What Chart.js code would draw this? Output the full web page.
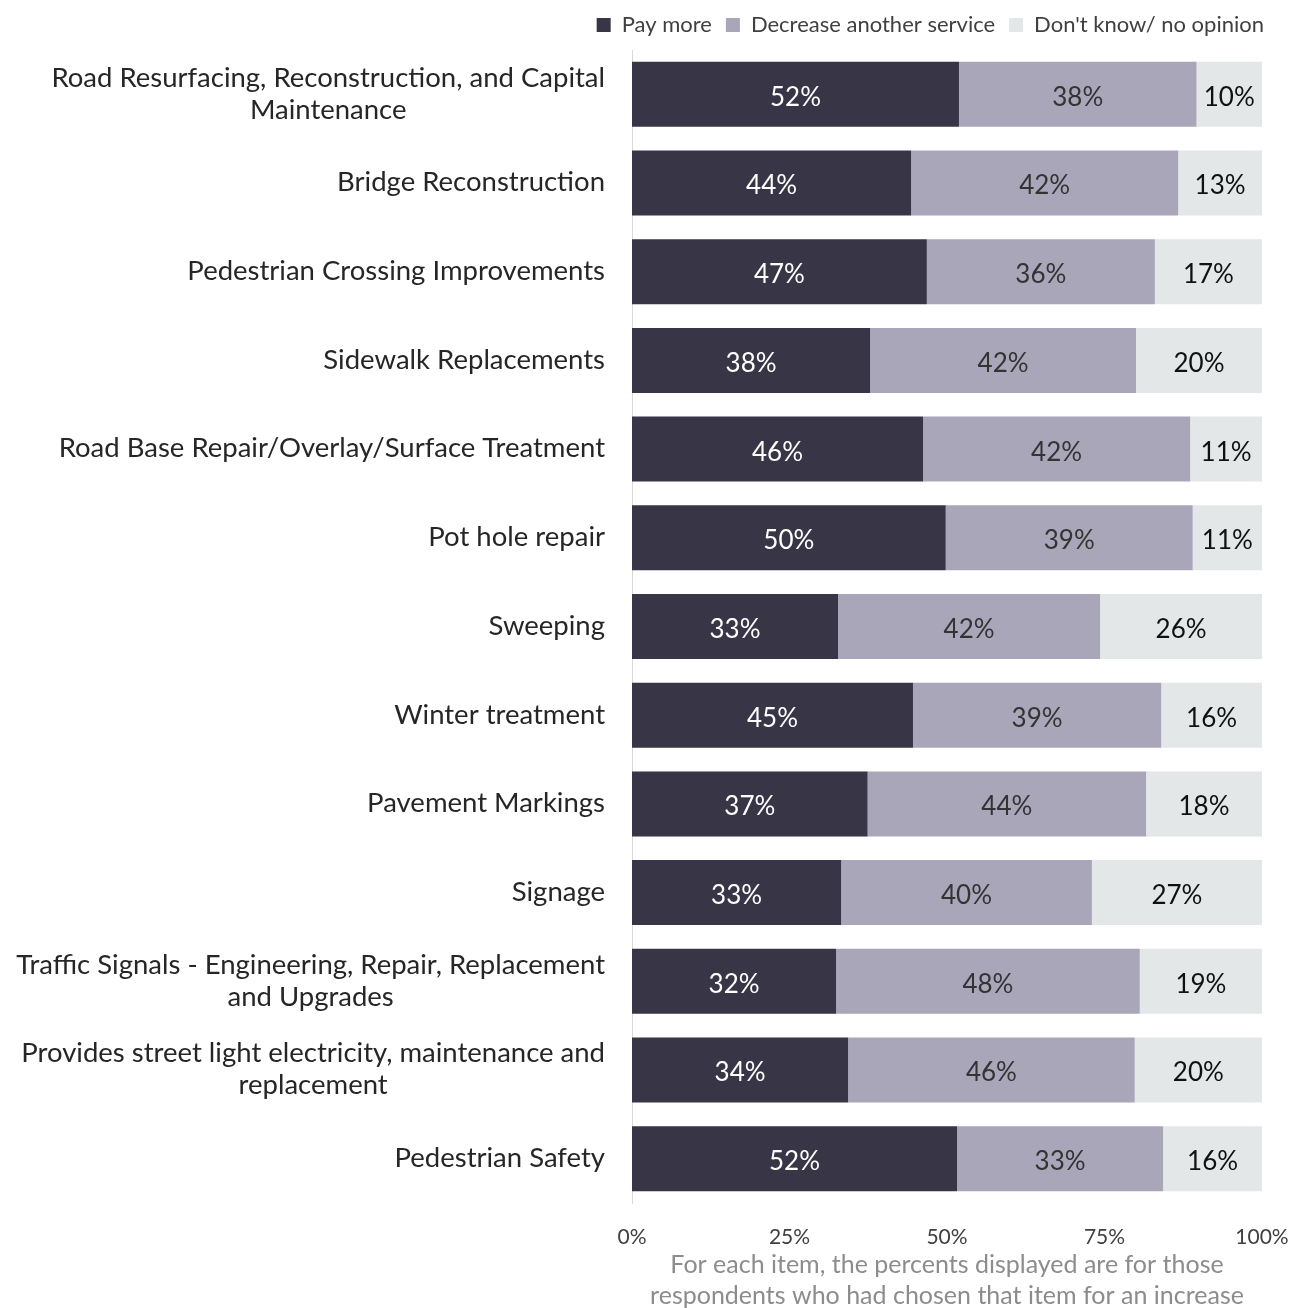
<!DOCTYPE html>
<html>
<head>
<meta charset="utf-8">
<script src="https://cdn.jsdelivr.net/npm/chart.js@4.4.1/dist/chart.umd.min.js"></script>
<style>
    html, body { margin: 0; padding: 0; background: #fff; }
    #contenedor { width: 1299px; height: 1308px; }
</style>
</head>
<body>
<div id="contenedor"><canvas id="grafico"></canvas></div>
<script>
// datos
const categorias = [
    ['Road Resurfacing, Reconstruction, and Capital', 'Maintenance'],
    'Bridge Reconstruction',
    'Pedestrian Crossing Improvements',
    'Sidewalk Replacements',
    'Road Base Repair/Overlay/Surface Treatment',
    'Pot hole repair',
    'Sweeping',
    'Winter treatment',
    'Pavement Markings',
    'Signage',
    ['Traffic Signals - Engineering, Repair, Replacement', 'and Upgrades'],
    ['Provides street light electricity, maintenance and', 'replacement'],
    'Pedestrian Safety'
];
const pagarMas = [51.9, 44.3, 46.8, 37.8, 46.2, 49.8, 32.7, 44.6, 37.4, 33.2, 32.4, 34.3, 51.6];
const disminuirOtro = [37.7, 42.4, 36.2, 42.2, 42.4, 39.2, 41.6, 39.4, 44.2, 39.8, 48.2, 45.5, 32.7];
const noSabe = [10.4, 13.3, 17.0, 20.0, 11.4, 11.0, 25.7, 16.0, 18.4, 27.0, 19.4, 20.2, 15.7];
const seriesNombres = ['Pay more', 'Decrease another service', "Don't know/ no opinion"];
const tituloX = ['For each item, the percents displayed are for those', 'respondents who had chosen that item for an increase'];

const colores = ['#383547', '#aaa6ba', '#e4e7e8'];
const coloresTexto = ['#ffffff', '#333333', '#111111'];

// etiquetas del eje y, centradas entre lineas y alineadas a la derecha
const etiquetasEje = {
    id: 'etiquetasEje',
    afterDraw(chart) {
        const ctx = chart.ctx;
        const escala = chart.scales.y;
        ctx.save();
        ctx.font = '27.5px Lato';
        ctx.fillStyle = '#262626';
        ctx.textAlign = 'center';
        ctx.textBaseline = 'middle';
        categorias.forEach((cat, i) => {
            const lineas = Array.isArray(cat) ? cat : [cat];
            const ancho = Math.max(...lineas.map(l => ctx.measureText(l).width));
            const xCentro = escala.right - 27 - ancho / 2;
            const yCentro = escala.getPixelForTick(i) - 0.5;
            lineas.forEach((l, j) => {
                ctx.fillText(l, xCentro, yCentro + (j - (lineas.length - 1) / 2) * 32);
            });
        });
        ctx.restore();
    }
};

const etiquetasBarras = {
    id: 'etiquetasBarras',
    afterDatasetsDraw(chart) {
        const ctx = chart.ctx;
        ctx.save();
        ctx.font = '26px Lato';
        ctx.textAlign = 'center';
        ctx.textBaseline = 'middle';
        chart.data.datasets.forEach((ds, d) => {
            chart.getDatasetMeta(d).data.forEach((barra, i) => {
                ctx.fillStyle = coloresTexto[d];
                ctx.fillText(Math.round(ds.data[i]) + '%', (barra.x + barra.base) / 2, barra.y + 3);
            });
        });
        ctx.restore();
    }
};

new Chart(document.getElementById('grafico').getContext('2d'), {
    type: 'bar',
    data: {
        labels: categorias,
        datasets: [pagarMas, disminuirOtro, noSabe].map((valores, k) => ({
            label: seriesNombres[k],
            data: valores,
            backgroundColor: colores[k],
            borderWidth: 0,
            barPercentage: 0.733,
            categoryPercentage: 1
        }))
    },
    options: {
        indexAxis: 'y',
        responsive: true,
        maintainAspectRatio: false,
        animation: false,
        layout: { padding: { top: 0, right: 21, left: 0, bottom: 0 } },
        plugins: {
            tooltip: { enabled: false },
            legend: {
                position: 'top',
                align: 'end',
                labels: {
                    boxWidth: 14,
                    boxHeight: 14,
                    padding: 14,
                    color: '#404040',
                    font: { family: 'Lato', size: 22 }
                }
            }
        },
        scales: {
            x: {
                stacked: true,
                min: 0,
                max: 100,
                grid: { display: false },
                border: { display: false },
                ticks: {
                    stepSize: 25,
                    padding: 14,
                    color: '#404040',
                    font: { family: 'Lato', size: 21 },
                    callback: v => v + '%'
                },
                title: {
                    display: true,
                    text: tituloX,
                    color: '#8c8c8c',
                    font: { family: 'Lato', size: 25, lineHeight: 1.24 },
                    padding: { top: 0, bottom: -3 }
                },
                afterFit: s => { s.height = 105; s.paddingRight = 37; }
            },
            // eje vacio arriba, solo para separar la leyenda del area
            arriba: {
                type: 'linear',
                position: 'top',
                grid: { display: false },
                border: { display: false },
                ticks: { display: false },
                afterFit: s => { s.height = 4; }
            },
            y: {
                stacked: true,
                grid: { display: false },
                border: { display: true, color: '#d9d9d9', width: 1 },
                ticks: { display: false },
                afterFit: s => { s.width = 632; }
            }
        }
    },
    plugins: [etiquetasEje, etiquetasBarras]
});
</script>
</body>
</html>
